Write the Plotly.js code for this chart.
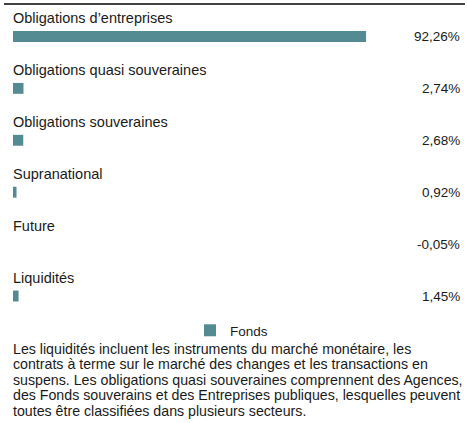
<!DOCTYPE html>
<html>
<head>
<meta charset="utf-8">
<script src="https://cdn.plot.ly/plotly-3.0.1.min.js"></script>
<style>
html,body{margin:0;padding:0;background:#fff;}
#chart{width:468px;height:423px;}
</style>
</head>
<body>
<div id="chart"></div>
<script>
var categories = ["Obligations d\u2019entreprises", "Obligations quasi souveraines", "Obligations souveraines", "Supranational", "Future", "Liquidit\u00e9s"];
var values = [92.26, 2.74, 2.68, 0.92, -0.05, 1.45];
var valueLabels = ["92,26%", "2,74%", "2,68%", "0,92%", "-0,05%", "1,45%"];
var seriesName = "Fonds";
var footnoteLines = [
  "Les liquidit\u00e9s incluent les instruments du march\u00e9 mon\u00e9taire, les",
  "contrats \u00e0 terme sur le march\u00e9 des changes et les transactions en",
  "suspens. Les obligations quasi souveraines comprennent des Agences,",
  "des Fonds souverains et des Entreprises publiques, lesquelles peuvent",
  "toutes \u00eatre classifi\u00e9es dans plusieurs secteurs."
];

var barColor = "#548b93";
var textColor = "#1a1a1a";
var font = "Liberation Sans, Arial, Helvetica, sans-serif";

var idx = categories.map(function(c, i){ return i; });

var trace = {
  type: "bar",
  orientation: "h",
  x: values,
  y: idx,
  name: seriesName,
  marker: {color: barColor},
  width: 0.21,
  hoverinfo: "none",
  showlegend: true
};

var annotations = [];
categories.forEach(function(c, i){
  annotations.push({
    xref: "x", yref: "y", x: 0, y: i,
    text: c, showarrow: false, xanchor: "left", yanchor: "middle",
    xshift: -2, yshift: 18.5, font: {family: font, size: 14.5, color: textColor}
  });
  annotations.push({
    xref: "paper", yref: "y", x: 1, y: i,
    text: valueLabels[i], showarrow: false, xanchor: "right", yanchor: "middle",
    xshift: 2, font: {family: font, size: 13.5, color: textColor}
  });
});
footnoteLines.forEach(function(line, k){
  annotations.push({
    xref: "paper", yref: "paper", x: 0, y: 0,
    text: line, showarrow: false, xanchor: "left", yanchor: "middle", align: "left",
    xshift: -2, yshift: -26.5 - 15.5 * k,
    font: {family: font, size: 14.2, color: textColor}
  });
});

var layout = {
  width: 468, height: 423,
  margin: {l: 13, r: 8, t: 4, b: 100.5},
  paper_bgcolor: "#fff", plot_bgcolor: "#fff",
  font: {family: font, size: 13.5, color: textColor},
  xaxis: {range: [0, 116.8], visible: false, fixedrange: true},
  yaxis: {range: [5.5, -0.625], visible: false, fixedrange: true},
  showlegend: true,
  legend: {orientation: "h", x: 0.5 - 5/447, xanchor: "center", y: 0.022, yanchor: "top",
           font: {family: font, size: 13.5, color: textColor}, itemwidth: 30},
  annotations: annotations,
  shapes: [{type: "line", xref: "paper", yref: "paper", x0: -9/447, x1: 1 + 5/447, y0: 1, y1: 1,
            line: {color: "#000", width: 1.5}}]
};

Plotly.newPlot("chart", [trace], layout, {displayModeBar: false, staticPlot: true});
</script>
</body>
</html>
